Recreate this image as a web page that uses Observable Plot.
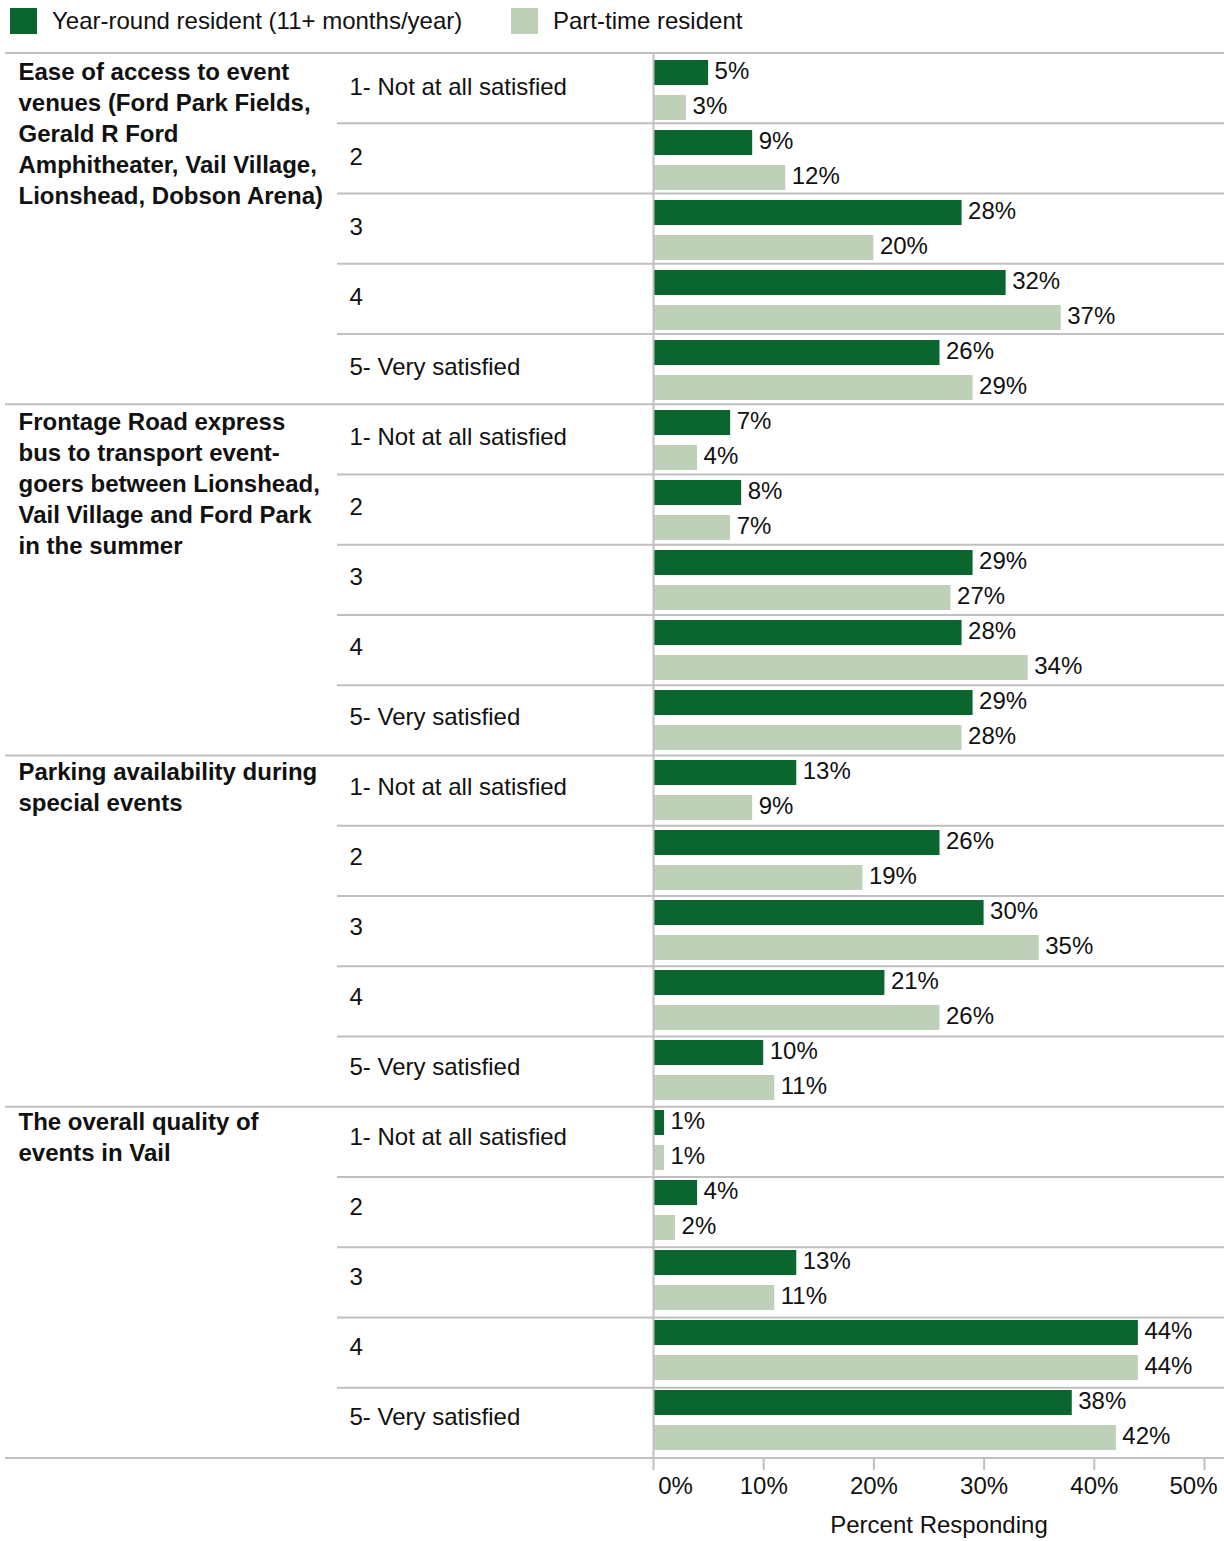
<!DOCTYPE html>
<html>
<head>
<meta charset="utf-8">
<script src="https://cdn.jsdelivr.net/npm/d3@7"></script>
<script src="https://cdn.jsdelivr.net/npm/@observablehq/plot@0.6"></script>
<style>
  html, body { margin: 0; padding: 0; background: #fff; }
  body { font-family: "Liberation Sans", Arial, sans-serif; width: 1224px; }
  #legend { position: relative; height: 52px; font-size: 24px; color: #111; }
  .item { position: absolute; top: 8px; display: flex; align-items: center; height: 26px; }
  .sw { width: 27px; height: 26px; margin-right: 15px; }
  svg { display: block; }
</style>
</head>
<body>
<div id="legend"></div>
<div id="chart"></div>
<script>
const groups = [
  "Ease of access to event\nvenues (Ford Park Fields,\nGerald R Ford\nAmphitheater, Vail Village,\nLionshead, Dobson Arena)",
  "Frontage Road express\nbus to transport event-\ngoers between Lionshead,\nVail Village and Ford Park\nin the summer",
  "Parking availability during\nspecial events",
  "The overall quality of\nevents in Vail"
];
const ratings = ["1- Not at all satisfied", "2", "3", "4", "5- Very satisfied"];
const series = ["Year-round resident (11+ months/year)", "Part-time resident"];
const colors = ["#0b652f", "#bed0b8"];
const yearRound = [
  [5, 9, 28, 32, 26],
  [7, 8, 29, 28, 29],
  [13, 26, 30, 21, 10],
  [1, 4, 13, 44, 38]
];
const partTime = [
  [3, 12, 20, 37, 29],
  [4, 7, 27, 34, 28],
  [9, 19, 35, 26, 11],
  [1, 2, 11, 44, 42]
];
const xTicks = [0, 10, 20, 30, 40, 50];
const axisLabel = "Percent Responding";

const seriesValues = [yearRound, partTime];
const data = [];
groups.forEach((g, gi) => ratings.forEach((r, ri) => series.forEach((s, si) => {
  data.push({group: g, rating: r, series: s, value: seriesValues[si][gi][ri], gi, ri, si, key: `${gi}|${ri}|${si}`});
})));
const rows = data.filter(d => d.si === 0);
const groupFirst = rows.filter(d => d.ri === 0);

// Legend
const legend = document.getElementById("legend");
const legendX = [10, 511];
series.forEach((s, i) => {
  const it = document.createElement("div");
  it.className = "item";
  it.style.left = legendX[i] + "px";
  it.innerHTML = `<div class="sw" style="background:${colors[i]}"></div><span>${s}</span>`;
  legend.appendChild(it);
});

const gray = "#c0c0c0";
const font = "Liberation Sans, Arial, sans-serif";

const chart = Plot.plot({
  width: 1224,
  height: 1489,
  marginTop: 1,
  marginBottom: 83,
  marginLeft: 653,
  marginRight: 20,
  style: {fontFamily: font, fontSize: "24px", color: "#111", background: "#fff"},
  x: {domain: [0, 50], axis: null},
  y: {domain: data.map(d => d.key), paddingInner: 0.28, paddingOuter: 0.14, axis: null},
  color: {domain: series, range: colors},
  marks: [
    Plot.barX(data, {x: "value", y: "key", fill: "series"}),
    Plot.text(data, {x: "value", y: "key", text: d => d.value + "%", textAnchor: "start", dx: 6, dy: -2, fontSize: 24, fill: "#111"}),
    Plot.text(rows, {y: "key", text: "rating", frameAnchor: "left", dx: -304, dy: 14, textAnchor: "start", fontSize: 24, fill: "#111"}),
    Plot.text(groupFirst, {y: "key", text: "group", frameAnchor: "left", dx: -635, dy: -15, textAnchor: "start", lineAnchor: "top", lineHeight: 1.29, fontSize: 24, fontWeight: "bold", fill: "#111"}),
    Plot.ruleX([0], {stroke: gray, strokeWidth: 2}),
    Plot.axisX({ticks: xTicks, tickSize: 12, tickFormat: () => "", stroke: gray, strokeWidth: 2, label: null}),
    Plot.text(xTicks.filter(t => t === xTicks[0]), {x: d => d, text: d => d + "%", frameAnchor: "bottom", dy: 35, dx: 22, fontSize: 24, fill: "#111"}),
    Plot.text(xTicks.filter(t => t !== xTicks[0] && t !== xTicks[xTicks.length - 1]), {x: d => d, text: d => d + "%", frameAnchor: "bottom", dy: 35, fontSize: 24, fill: "#111"}),
    Plot.text(xTicks.filter(t => t === xTicks[xTicks.length - 1]), {x: d => d, text: d => d + "%", frameAnchor: "bottom", dy: 35, dx: -11, fontSize: 24, fill: "#111"}),
    Plot.text([axisLabel], {text: d => d, frameAnchor: "bottom", dy: 74, dx: 10, fontSize: 24, fill: "#111"})
  ]
});
document.getElementById("chart").appendChild(chart);

// Row separators derived from the plot's y scale
const ys = chart.scale("y");
const [r0, r1] = ys.range;
const step = (r1 - r0) / ys.domain.length;
const svg = d3.select(chart.tagName.toLowerCase() === "svg" ? chart : chart.querySelector("svg"));
const sepG = svg.insert("g", ":first-child").attr("stroke", gray).attr("stroke-width", 2);
const nRows = rows.length;
for (let k = 0; k <= nRows; k++) {
  const yPix = r0 + k * 2 * step;
  const isGroup = k % ratings.length === 0;
  sepG.append("line")
    .attr("x1", isGroup ? 5 : 337)
    .attr("x2", 1224)
    .attr("y1", yPix)
    .attr("y2", yPix);
}
</script>
</body>
</html>
